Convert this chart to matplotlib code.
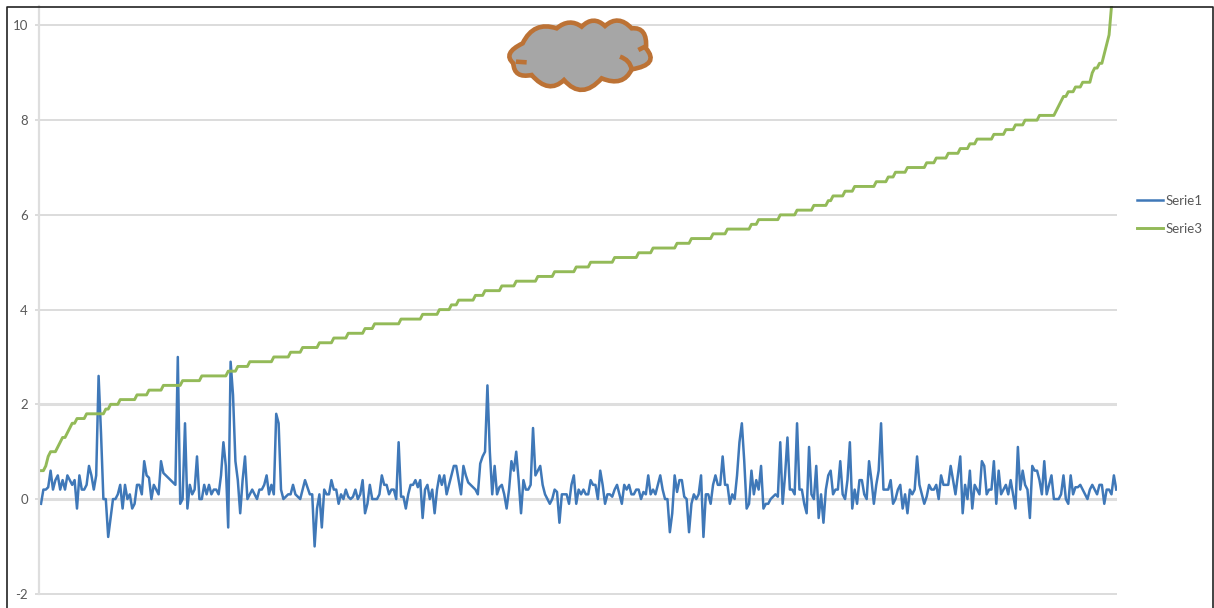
import matplotlib
matplotlib.use("Agg")
import matplotlib.pyplot as plt
from matplotlib.lines import Line2D
from matplotlib.patches import PathPatch
from matplotlib.path import Path
import numpy as np

W, H = 1214, 608

y_ticks = [-2, 0, 2, 4, 6, 8, 10]
heavy_grid = [0, 2]

serie1 = [
    -0.1, 0.2, 0.2, 0.25, 0.6, 0.2, 0.4, 0.5, 0.2, 0.4,
    0.2, 0.5, 0.4, 0.3, 0.4, -0.2, 0.5, 0.2, 0.2, 0.3,
    0.7, 0.5, 0.2, 0.5, 2.6, 1.4, 0.0, 0.0, -0.8, -0.4,
    0.0, 0.0, 0.1, 0.3, -0.2, 0.3, 0.0, 0.1, -0.2, -0.1,
    0.3, 0.3, 0.1, 0.8, 0.5, 0.45, 0.0, 0.3, 0.2, 0.1,
    0.8, 0.55, 0.5, 0.45, 0.4, 0.35, 0.3, 3.0, -0.1, 0.0,
    1.6, -0.2, 0.3, 0.1, 0.2, 0.9, 0.0, 0.0, 0.3, 0.1,
    0.3, 0.1, 0.2, 0.2, 0.1, 0.5, 1.2, 0.7, -0.6, 2.9,
    2.2, 0.8, 0.4, -0.3, 0.4, 0.9, 0.0, 0.1, 0.2, 0.1,
    0.0, 0.2, 0.2, 0.3, 0.5, 0.1, 0.3, 0.1, 1.8, 1.6,
    0.2, 0.0, 0.05, 0.1, 0.1, 0.3, 0.1, 0.05, 0.0, 0.2,
    0.4, 0.25, 0.1, 0.1, -1.0, -0.2, 0.1, -0.6, 0.2, 0.1,
    0.1, 0.4, 0.2, 0.2, -0.1, 0.1, 0.0, 0.2, 0.05, 0.0,
    0.05, 0.2, 0.0, 0.1, 0.4, -0.3, -0.1, 0.3, 0.0, 0.0,
    0.0, 0.1, 0.5, 0.3, 0.3, 0.1, 0.2, 0.2, 0.0, 1.2,
    0.05, 0.05, -0.2, 0.1, 0.3, 0.3, 0.4, 0.25, 0.4, -0.4,
    0.2, 0.3, 0.0, 0.2, -0.3, 0.2, 0.5, 0.3, 0.5, 0.1,
    0.3, 0.5, 0.7, 0.7, 0.4, 0.1, 0.7, 0.5, 0.35, 0.3,
    0.25, 0.2, 0.1, 0.75, 0.9, 1.0, 2.4, 1.0, 0.1, 0.7,
    0.1, 0.25, 0.3, 0.1, -0.2, 0.2, 0.8, 0.6, 1.0, 0.4,
    -0.3, 0.4, 0.2, 0.2, 0.3, 1.5, 0.5, 0.6, 0.7, 0.3,
    0.1, 0.0, -0.1, 0.0, 0.2, 0.15, -0.5, 0.1, 0.1, 0.1,
    -0.1, 0.3, 0.5, -0.1, 0.2, 0.1, 0.2, 0.1, 0.1, 0.4,
    0.3, 0.3, 0.0, 0.6, 0.3, -0.1, 0.1, 0.1, 0.05, 0.2,
    0.3, 0.1, -0.1, 0.3, 0.2, 0.3, 0.1, 0.1, 0.2, 0.2,
    0.0, 0.15, 0.1, 0.5, 0.1, 0.2, 0.1, 0.3, 0.5, 0.2,
    0.0, 0.0, -0.7, -0.3, 0.5, 0.15, 0.4, 0.4, 0.05, 0.0,
    -0.7, -0.1, 0.1, 0.0, 0.1, 0.5, -0.8, 0.1, 0.1, -0.1,
    0.3, 0.5, 0.3, 0.3, 0.9, 0.3, 0.3, -0.1, 0.1, 0.0,
    0.5, 1.2, 1.6, 0.8, -0.2, -0.1, 0.6, 0.1, 0.4, 0.2,
    0.7, -0.2, -0.1, -0.1, 0.0, 0.05, 0.1, 0.05, 1.2, -0.1,
    0.5, 1.3, 0.2, 0.2, 0.1, 1.6, 0.2, 0.2, -0.1, -0.3,
    1.1, 0.1, 0.0, 0.7, -0.4, 0.1, -0.5, 0.2, 0.5, 0.6,
    0.1, 0.2, 0.2, 0.8, 0.1, 0.0, 0.4, 1.2, -0.2, 0.2,
    -0.1, 0.4, 0.4, 0.1, 0.0, 0.8, 0.4, -0.1, 0.3, 0.6,
    1.6, 0.2, 0.2, 0.2, 0.4, -0.1, 0.0, 0.2, 0.3, -0.2,
    0.1, -0.3, 0.2, 0.1, 0.2, 0.9, 0.3, 0.1, -0.1, 0.05,
    0.3, 0.2, 0.2, 0.3, 0.0, 0.5, 0.3, 0.3, 0.3, 0.7,
    0.4, 0.1, 0.5, 0.9, -0.3, 0.3, 0.0, 0.6, -0.2, 0.3,
    0.2, 0.1, 0.8, 0.7, 0.1, 0.2, 0.2, 0.8, -0.1, 0.6,
    0.1, 0.2, 0.3, 0.1, 0.4, 0.1, -0.2, 1.1, 0.2, 0.6,
    0.3, 0.2, -0.4, 0.7, 0.6, 0.6, 0.4, 0.1, 0.8, 0.1,
    0.3, 0.5, 0.0, 0.0, 0.0, 0.1, 0.5, 0.0, -0.1, 0.5,
    0.1, 0.25, 0.25, 0.3, 0.2, 0.1, 0.0, 0.2, 0.3, 0.2,
    0.1, 0.3, 0.3, -0.1, 0.2, 0.2, 0.1, 0.5, 0.2,
]

# Serie3 is a staircase: each level and how many points stay on it
serie3_levels = [
    0.6, 0.7, 0.9, 1.0, 1.1, 1.2, 1.3, 1.4, 1.5, 1.6, 1.7, 1.8, 1.9, 2.0,
    2.1, 2.2, 2.3, 2.4, 2.5, 2.6, 2.7, 2.8, 2.9, 3.0, 3.1, 3.2, 3.3, 3.4,
    3.5, 3.6, 3.7, 3.8, 3.9, 4.0, 4.1, 4.2, 4.3, 4.4, 4.5, 4.6, 4.7, 4.8,
    4.9, 5.0, 5.1, 5.2, 5.3, 5.4, 5.5, 5.6, 5.7, 5.8, 5.9, 6.0, 6.1, 6.2,
    6.3, 6.4, 6.5, 6.6, 6.7, 6.8, 6.9, 7.0, 7.1, 7.2, 7.3, 7.4, 7.5, 7.6,
    7.7, 7.8, 7.9, 8.0, 8.1, 8.2, 8.3, 8.4, 8.5, 8.6, 8.7, 8.8, 9.0, 9.1,
    9.2, 9.4, 9.6, 9.8, 10.4, 11.0, 11.5,
]
serie3_runs = [
    2, 1, 1, 3, 1, 1, 2, 1, 1, 2, 4, 8, 2, 4,
    7, 5, 6, 8, 8, 11, 4, 5, 10, 7, 5, 7, 6, 6,
    7, 4, 11, 9, 7, 5, 3, 7, 4, 7, 6, 9, 7, 9,
    6, 10, 10, 6, 10, 6, 9, 6, 10, 3, 9, 7, 7, 6,
    2, 5, 4, 9, 5, 3, 5, 8, 4, 5, 5, 4, 3, 7,
    5, 4, 4, 6, 7, 1, 1, 1, 2, 3, 3, 4, 1, 2,
    2, 1, 1, 1, 1, 1, 1,
]
serie3 = np.repeat(serie3_levels, serie3_runs)

# cloud outline, in pixels of a 3x crop starting at (490, 0)
cloud_start = (98, 130)
cloud_lobes = [
    ((131, 62), (200, 85)),
    ((238, 53), (275, 80)),
    ((310, 45), (345, 78)),
    ((385, 42), (425, 85)),
    ((473, 80), (468, 145)),
    ((510, 194), (425, 208)),
    ((400, 262), (335, 235)),
    ((275, 302), (222, 240)),
    ((176, 284), (125, 225)),
    ((72, 236), (70, 190)),
    ((36, 160), (98, 130)),
]
cloud_marks = [
    ((78, 185), (110, 187)),
    ((445, 150), (465, 140)),
]
cloud_arc = ((390, 170), (420, 180), (425, 208))


def cloud_xy(p):
    return ((490 + p[0] / 3) / W, 1 - (p[1] / 3) / H)


plt.rcParams["font.family"] = ["Lato", "DejaVu Sans"]
plt.rcParams["axes.unicode_minus"] = False

fig = plt.figure(figsize=(W / 100, H / 100), dpi=100)
ax = fig.add_axes([39 / W, 0, (1117 - 39) / W, (H - 6) / H])
ax.patch.set_alpha(0)

x = np.arange(len(serie1))
ax.plot(x, serie1, color="#3F78B8", lw=1.8, label="Serie1", solid_joinstyle="round")
ax.plot(x, serie3, color="#93BA58", lw=2.1, label="Serie3", solid_joinstyle="round")

ax.set_xlim(-0.83, 448.3)
ax.set_ylim(-2.3, 10.41)
ax.set_xticks([])
ax.set_yticks(y_ticks)
ax.set_axisbelow(True)
ax.grid(axis="y", color="#D9D9D9", lw=1.3)
for value, line in zip(y_ticks, ax.get_ygridlines()):
    if value in heavy_grid:
        line.set_linewidth(2.2)
        line.set_color("#DEDEDE")
ax.tick_params(axis="y", length=3, width=1.3, color="#D9D9D9", labelcolor="#595959",
               labelsize=9.5, pad=5)

for side in ["top", "right", "bottom"]:
    ax.spines[side].set_visible(False)
ax.spines["left"].set_color("#DEDEDE")
ax.spines["left"].set_linewidth(1.6)
ax.spines["left"].set_bounds(-2, 10.41)

fig.legend(loc="upper left", bbox_to_anchor=(1137 / W, 1 - 195 / H), frameon=False,
           fontsize=9.5, labelcolor="#595959", handlelength=1.95, handletextpad=0.25,
           labelspacing=1.2, borderpad=0, borderaxespad=0)

# page frame, open at the bottom
frame_x = [6.5 / W, 6.5 / W, 1213 / W, 1213 / W]
frame_y = [0, 1 - 6.5 / H, 1 - 6.5 / H, 0]
fig.add_artist(Line2D(frame_x, frame_y, color="#222222", lw=1.2, transform=fig.transFigure))

# cloud
verts = [cloud_xy(cloud_start)]
codes = [Path.MOVETO]
for ctrl, end in cloud_lobes:
    verts += [cloud_xy(ctrl), cloud_xy(end)]
    codes += [Path.CURVE3, Path.CURVE3]
verts.append(cloud_xy(cloud_start))
codes.append(Path.CLOSEPOLY)
fig.add_artist(PathPatch(Path(verts, codes), facecolor="#A6A6A6", edgecolor="#BC7235",
                         lw=3.3, transform=fig.transFigure, zorder=5))

for a, b in cloud_marks:
    mark = Path([cloud_xy(a), cloud_xy(b)], [Path.MOVETO, Path.LINETO])
    fig.add_artist(PathPatch(mark, fill=False, edgecolor="#BC7235", lw=3.3,
                             capstyle="butt", transform=fig.transFigure, zorder=6))
arc = Path([cloud_xy(p) for p in cloud_arc], [Path.MOVETO, Path.CURVE3, Path.CURVE3])
fig.add_artist(PathPatch(arc, fill=False, edgecolor="#BC7235", lw=3.3,
                         capstyle="butt", transform=fig.transFigure, zorder=6))

fig.savefig("out.png", dpi=100)
